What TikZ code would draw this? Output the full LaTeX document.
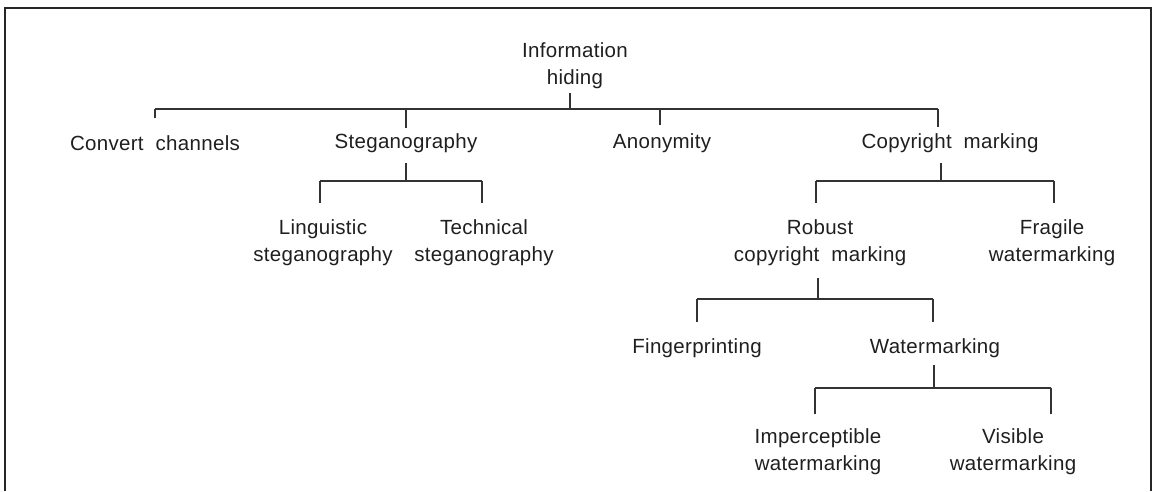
\documentclass[tikz,border=0pt]{standalone}
\usepackage{fontspec}
\setmainfont[LetterSpace=1.5]{Liberation Sans}
\begin{document}
\begin{tikzpicture}[x=1pt,y=-1pt,
  lab/.style={font=\fontsize{20.5}{27}\selectfont, align=center, inner sep=0pt, text=black!88},
  ln/.style={line width=1.1pt, draw=black!80}]
\useasboundingbox (0,0) rectangle (1152,491);
\draw[line width=2pt, black!85] (5,491) -- (5,8) -- (1151,8) -- (1151,491);
% nodes
\node[lab] (ih) at (575,66) {Information\\hiding};
\node[lab] (cc) at (155,143) {Convert\ \ channels};
\node[lab] (st) at (406,143) {Steganography};
\node[lab] (an) at (662,143) {Anonymity};
\node[lab] (cm) at (950,143) {Copyright\ \ marking};
\node[lab] (ls) at (323,243) {Linguistic\\steganography};
\node[lab] (ts) at (484,243) {Technical\\steganography};
\node[lab] (rc) at (820,243) {Robust\\copyright\ \ marking};
\node[lab] (fw) at (1052,243) {Fragile\\watermarking};
\node[lab] (fp) at (697,348) {Fingerprinting};
\node[lab] (wm) at (935,348) {Watermarking};
\node[lab] (iw) at (818,452) {Imperceptible\\watermarking};
\node[lab] (vw) at (1013,452) {Visible\\watermarking};
% level 0 -> 1
\coordinate (ihS) at (570,93);
\coordinate (t0) at (570,109);
\coordinate (tL) at (155,109);
\coordinate (tR) at (938,109);
\coordinate (tS) at (406,109);
\coordinate (tA) at (660,109);
\draw[ln] (ihS) -- (t0);
\draw[ln] (tL) -- (tR);
\draw[ln] (tL) -- ++(0,9);
\draw[ln] (tS) -- ++(0,19);
\draw[ln] (tA) -- ++(0,16);
\draw[ln] (tR) -- ++(0,18);
% steganography
\coordinate (stS) at (406,163);
\coordinate (s0) at (406,181);
\coordinate (sL) at (320,181);
\coordinate (sR) at (482,181);
\draw[ln] (stS) -- (s0);
\draw[ln] (sL) -- (sR);
\draw[ln] (sL) -- ++(0,22);
\draw[ln] (sR) -- ++(0,22);
% copyright marking
\coordinate (cmS) at (941,163);
\coordinate (c0) at (941,181);
\coordinate (cL) at (816,181);
\coordinate (cR) at (1054,181);
\draw[ln] (cmS) -- (c0);
\draw[ln] (cL) -- (cR);
\draw[ln] (cL) -- ++(0,22);
\draw[ln] (cR) -- ++(0,22);
% robust
\coordinate (rcS) at (818,278);
\coordinate (r0) at (818,299);
\coordinate (rL) at (697,299);
\coordinate (rR) at (933,299);
\draw[ln] (rcS) -- (r0);
\draw[ln] (rL) -- (rR);
\draw[ln] (rL) -- ++(0,23);
\draw[ln] (rR) -- ++(0,23);
% watermarking
\coordinate (wmS) at (934,365);
\coordinate (w0) at (934,388);
\coordinate (wL) at (815,388);
\coordinate (wR) at (1051,388);
\draw[ln] (wmS) -- (w0);
\draw[ln] (wL) -- (wR);
\draw[ln] (wL) -- ++(0,26);
\draw[ln] (wR) -- ++(0,26);
\end{tikzpicture}
\end{document}
